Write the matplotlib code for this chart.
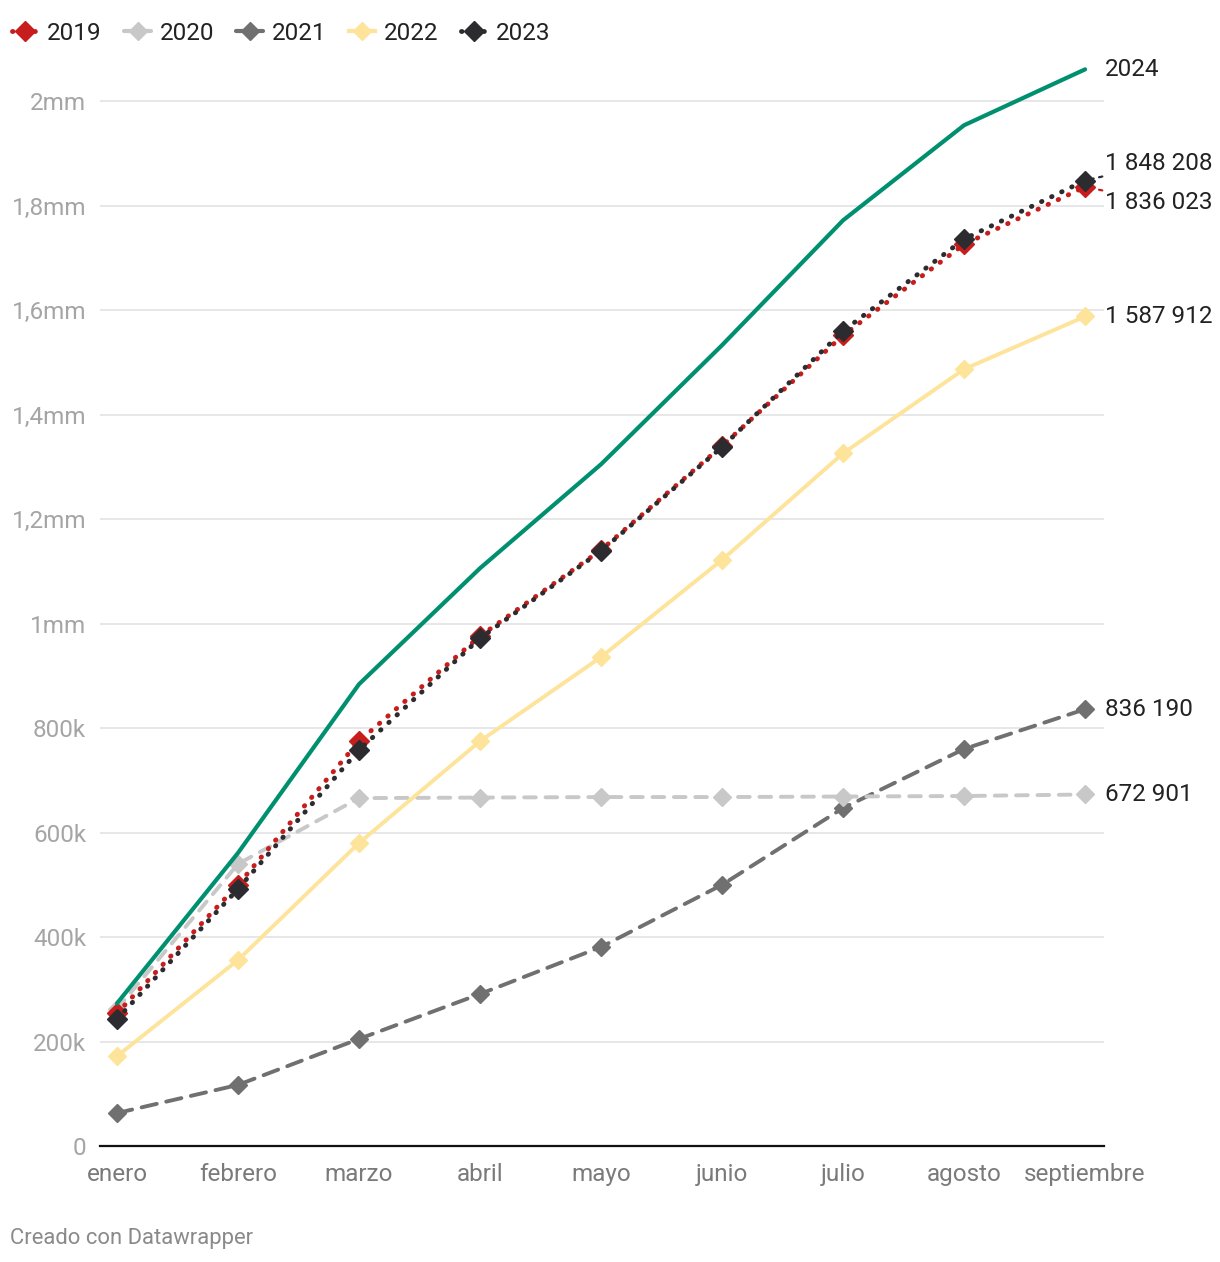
import matplotlib
matplotlib.use("Agg")
from matplotlib import pyplot as plt
from matplotlib.lines import Line2D
from matplotlib.ticker import FixedLocator

plt.rcParams["font.family"] = ["Roboto", "DejaVu Sans"]

months = ["enero", "febrero", "marzo", "abril", "mayo", "junio",
          "julio", "agosto", "septiembre"]

v2019 = [254000, 500000, 775000, 976000, 1141000, 1340000, 1552000, 1726000, 1836023]
v2020 = [262000, 540000, 666000, 667000, 668000, 668000, 669000, 670000, 672901]
v2021 = [63000, 117000, 205000, 291000, 381000, 500000, 647000, 760000, 836190]
v2022 = [172000, 356000, 580000, 775000, 936000, 1122000, 1326000, 1487000, 1587912]
v2023 = [243000, 492000, 758000, 972000, 1139000, 1338000, 1560000, 1736000, 1848208]
v2024 = [273000, 561000, 884000, 1106000, 1305000, 1533000, 1772000, 1954000, 2061000]

y_ticks = [0, 200000, 400000, 600000, 800000, 1000000, 1200000, 1400000,
           1600000, 1800000, 2000000]
y_labels = ["0", "200k", "400k", "600k", "800k", "1mm", "1,2mm", "1,4mm",
            "1,6mm", "1,8mm", "2mm"]

c2019 = "#c71e1d"
c2020 = "#c8c8c8"
c2021 = "#707070"
c2022 = "#fee39a"
c2023 = "#2c2c30"
c2024 = "#00906f"

fig = plt.figure(figsize=(12.2, 12.62), dpi=100)
ax = fig.add_axes([0.082, 0.0919, 0.823, 0.8693])

x = list(range(len(months)))

ax.plot(x, v2024, color=c2024, lw=3, zorder=6, solid_capstyle="round")
ax.plot(x, v2021, color=c2021, lw=2.8, ls=(0, (4, 2.5)), marker="D",
        ms=9, zorder=3, dash_capstyle="round")
ax.plot(x, v2020, color=c2020, lw=2.8, ls=(0, (3, 2.5)), marker="D",
        ms=9, zorder=3, dash_capstyle="round")
ax.plot(x, v2022, color=c2022, lw=2.8, marker="D", ms=9, zorder=4)
ax.plot(x, v2019, color=c2019, lw=3.5, ls=(0, (0.1, 2.2)), marker="D",
        ms=10, zorder=5, dash_capstyle="round")
ax.plot(x, v2023, color=c2023, lw=3.5, ls=(0, (0.1, 2.2)), marker="D",
        ms=10, zorder=5, dash_capstyle="round")

ax.set_xlim(-0.14, 8.157)
ax.set_ylim(0, 2100000)

ax.yaxis.set_major_locator(FixedLocator(y_ticks))
ax.set_yticklabels(y_labels)
ax.set_xticks(x)
ax.set_xticklabels(months)

ax.grid(axis="y", color="#e3e3e3", lw=1.2)
ax.set_axisbelow(True)
for s in ["top", "right", "left"]:
    ax.spines[s].set_visible(False)
ax.spines["bottom"].set_color("#111111")
ax.spines["bottom"].set_linewidth(1.6)
ax.spines["bottom"].set_zorder(7)
ax.tick_params(axis="y", length=0, pad=10, labelsize=17.5, labelcolor="#a5a5a5")
ax.tick_params(axis="x", length=0, pad=12, labelsize=17.5, labelcolor="#7a7a7a")

# end labels
lab_kw = dict(fontsize=17.5, color="#222222", va="center", ha="left")
ax.text(8.165, 2061000, "2024", **lab_kw)
ax.text(8.165, 1587912, "1 587 912", **lab_kw)
ax.text(8.165, 836190, "836 190", **lab_kw)
ax.text(8.165, 672901, "672 901", **lab_kw)
ax.annotate("1 848 208", xy=(8.0, 1848208), xytext=(8.165, 1881000),
            arrowprops=dict(arrowstyle="-", color=c2023, ls=(0, (1.5, 2.5)),
                            lw=1.6, shrinkA=0, shrinkB=0),
            **lab_kw)
ax.annotate("1 836 023", xy=(8.0, 1836023), xytext=(8.165, 1807000),
            arrowprops=dict(arrowstyle="-", color=c2019, ls=(0, (1.5, 2.5)),
                            lw=1.6, shrinkA=0, shrinkB=0),
            **lab_kw)

# legend
handles = [
    Line2D([], [], color=c2019, lw=3.5, ls=(0, (0.1, 2.2)), marker="D", ms=10,
           dash_capstyle="round"),
    Line2D([], [], color=c2020, lw=3, marker="D", ms=9, solid_capstyle="round"),
    Line2D([], [], color=c2021, lw=3, marker="D", ms=9, solid_capstyle="round"),
    Line2D([], [], color=c2022, lw=3, marker="D", ms=9),
    Line2D([], [], color=c2023, lw=3.5, ls=(0, (0.1, 2.2)), marker="D", ms=10,
           dash_capstyle="round"),
]
fig.legend(handles, ["2019", "2020", "2021", "2022", "2023"], ncol=5,
           loc="upper left", bbox_to_anchor=(-0.008, 1.0), frameon=False,
           fontsize=17.5, handlelength=1.1, handletextpad=0.35, columnspacing=0.92,
           labelcolor="#222222")

fig.text(0.008, 0.019, "Creado con Datawrapper", fontsize=15.8, color="#8a8a8a",
         ha="left", va="center")

fig.savefig("out.png", dpi=100, facecolor="white")
